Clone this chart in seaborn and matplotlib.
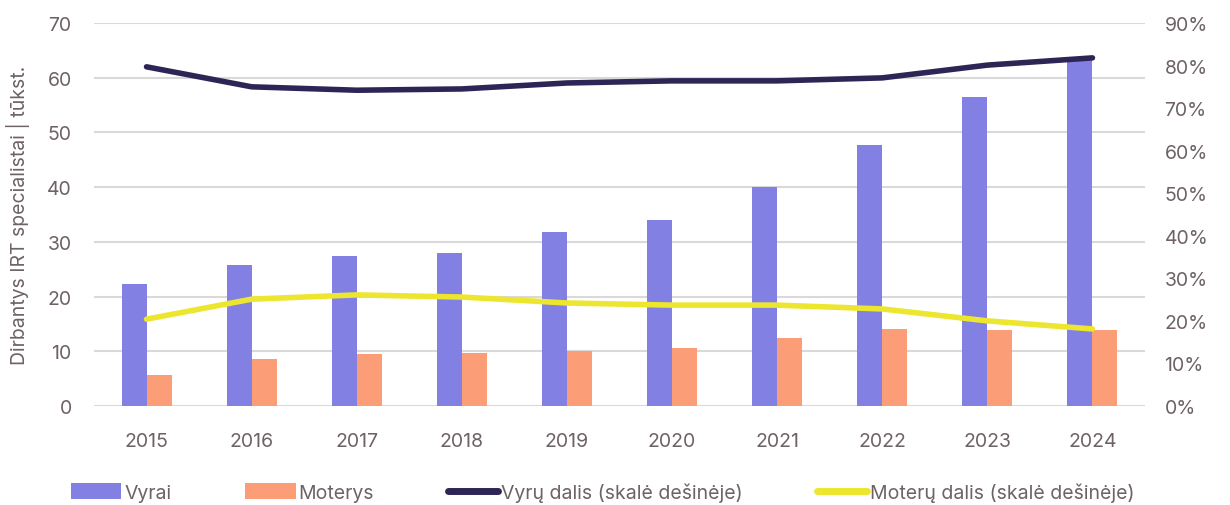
import matplotlib
matplotlib.use('Agg')
import matplotlib.pyplot as plt
import seaborn as sns
import pandas as pd
from matplotlib.ticker import FuncFormatter

years = ['2015', '2016', '2017', '2018', '2019', '2020', '2021', '2022', '2023', '2024']
vyrai = [22.3, 25.8, 27.4, 28.0, 31.8, 34.0, 40.0, 47.7, 56.5, 63.4]
moterys = [5.7, 8.6, 9.5, 9.7, 10.1, 10.6, 12.4, 14.1, 13.9, 13.9]
vyru_dalis = [79.7, 75.0, 74.2, 74.5, 75.9, 76.4, 76.4, 77.1, 80.1, 81.8]
moteru_dalis = [20.4, 25.1, 26.1, 25.6, 24.2, 23.7, 23.7, 22.8, 20.0, 18.1]

TXT = '#6e6266'
GRID = '#dcd7d9'

sns.set_theme(style='white')
plt.rcParams['font.family'] = ['Inter', 'DejaVu Sans']

bars = pd.DataFrame({
    'year': years * 2,
    'value': vyrai + moterys,
    'series': ['Vyrai'] * len(years) + ['Moterys'] * len(years),
})
shares = pd.DataFrame({'pos': range(len(years)), 'vyru': vyru_dalis, 'moteru': moteru_dalis})

fig = plt.figure(figsize=(12.3, 5.06), dpi=100)
ax = fig.add_axes([0.0764, 0.1957, 0.8545, 0.7569])

sns.barplot(data=bars, x='year', y='value', hue='series',
            palette={'Vyrai': '#8280e3', 'Moterys': '#fb9d76'},
            width=0.476, gap=0, saturation=1, linewidth=0, ax=ax, legend=False)
ax.set_ylim(0, 70)
ax.set_xlim(-0.5, len(years) - 0.5)
ax.set_yticks(range(0, 71, 10))
ax.yaxis.grid(True, color=GRID, linewidth=1.5)
ax.set_axisbelow(True)
ax.set_xlabel('')
ax.set_ylabel('Dirbantys IRT specialistai | tūkst.', color=TXT, fontsize=14, labelpad=12)
ax.tick_params(axis='both', colors=TXT, labelsize=14, length=0)
ax.tick_params(axis='x', pad=19)
ax.tick_params(axis='y', pad=16)
for s in ax.spines.values():
    s.set_visible(False)

ax2 = ax.twinx()
sns.lineplot(data=shares, x='pos', y='vyru', color='#2e2557', linewidth=4,
             solid_capstyle='round', ax=ax2)
sns.lineplot(data=shares, x='pos', y='moteru', color='#ede62e', linewidth=4,
             solid_capstyle='round', ax=ax2)
ax2.set_ylim(0, 90)
ax2.set_yticks(range(0, 91, 10))
ax2.yaxis.set_major_formatter(FuncFormatter(lambda v, p: f'{v:.0f}%'))
ax2.set_ylabel('')
ax2.tick_params(axis='y', colors=TXT, labelsize=14, length=0, pad=14)
for s in ax2.spines.values():
    s.set_visible(False)

handles = [
    plt.Rectangle((0, 0), 1, 1, color='#8280e3', linewidth=0),
    plt.Rectangle((0, 0), 1, 1, color='#fb9d76', linewidth=0),
    plt.Line2D([], [], color='#2e2557', linewidth=5, solid_capstyle='round'),
    plt.Line2D([], [], color='#ede62e', linewidth=5, solid_capstyle='round'),
]
labels = ['Vyrai', 'Moterys', 'Vyrų dalis (skalė dešinėje)', 'Moterų dalis (skalė dešinėje)']
leg = fig.legend(handles, labels, loc='center', bbox_to_anchor=(0.49, 0.025), ncol=4,
                 frameon=False, fontsize=14, handlelength=2.6, handleheight=0.9,
                 handletextpad=0.15, columnspacing=3.8)
for t in leg.get_texts():
    t.set_color(TXT)

fig.savefig('out.png', dpi=100)
